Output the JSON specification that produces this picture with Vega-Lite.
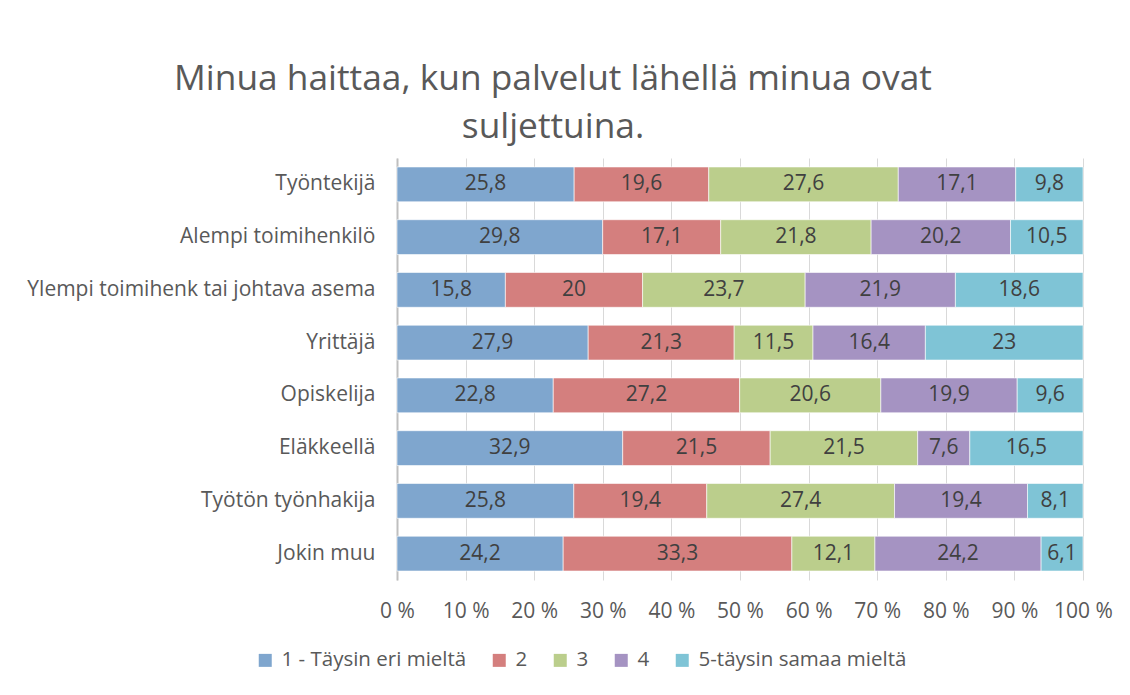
{
  "$schema": "https://vega.github.io/schema/vega-lite/v6.json",
  "width": 686,
  "height": 422,
  "autosize": {"type": "none"},
  "padding": {"left": 397, "top": 158, "right": 47, "bottom": 115},
  "background": "white",
  "title": {
    "text": ["Minua haittaa, kun palvelut lähellä minua ovat", "suljettuina."],
    "anchor": "middle",
    "frame": "group",
    "dx": -187,
    "offset": 13,
    "font": "Open Sans",
    "fontSize": 35.3,
    "fontWeight": "normal",
    "color": "#595959",
    "lineHeight": 48
  },
  "data": {
    "values": [
      {"group": "Työntekijä", "series": "1 - Täysin eri mieltä", "value": 25.8},
      {"group": "Työntekijä", "series": "2", "value": 19.6},
      {"group": "Työntekijä", "series": "3", "value": 27.6},
      {"group": "Työntekijä", "series": "4", "value": 17.1},
      {"group": "Työntekijä", "series": "5-täysin samaa mieltä", "value": 9.8},
      {"group": "Alempi toimihenkilö", "series": "1 - Täysin eri mieltä", "value": 29.8},
      {"group": "Alempi toimihenkilö", "series": "2", "value": 17.1},
      {"group": "Alempi toimihenkilö", "series": "3", "value": 21.8},
      {"group": "Alempi toimihenkilö", "series": "4", "value": 20.2},
      {"group": "Alempi toimihenkilö", "series": "5-täysin samaa mieltä", "value": 10.5},
      {"group": "Ylempi toimihenk tai johtava asema", "series": "1 - Täysin eri mieltä", "value": 15.8},
      {"group": "Ylempi toimihenk tai johtava asema", "series": "2", "value": 20},
      {"group": "Ylempi toimihenk tai johtava asema", "series": "3", "value": 23.7},
      {"group": "Ylempi toimihenk tai johtava asema", "series": "4", "value": 21.9},
      {"group": "Ylempi toimihenk tai johtava asema", "series": "5-täysin samaa mieltä", "value": 18.6},
      {"group": "Yrittäjä", "series": "1 - Täysin eri mieltä", "value": 27.9},
      {"group": "Yrittäjä", "series": "2", "value": 21.3},
      {"group": "Yrittäjä", "series": "3", "value": 11.5},
      {"group": "Yrittäjä", "series": "4", "value": 16.4},
      {"group": "Yrittäjä", "series": "5-täysin samaa mieltä", "value": 23},
      {"group": "Opiskelija", "series": "1 - Täysin eri mieltä", "value": 22.8},
      {"group": "Opiskelija", "series": "2", "value": 27.2},
      {"group": "Opiskelija", "series": "3", "value": 20.6},
      {"group": "Opiskelija", "series": "4", "value": 19.9},
      {"group": "Opiskelija", "series": "5-täysin samaa mieltä", "value": 9.6},
      {"group": "Eläkkeellä", "series": "1 - Täysin eri mieltä", "value": 32.9},
      {"group": "Eläkkeellä", "series": "2", "value": 21.5},
      {"group": "Eläkkeellä", "series": "3", "value": 21.5},
      {"group": "Eläkkeellä", "series": "4", "value": 7.6},
      {"group": "Eläkkeellä", "series": "5-täysin samaa mieltä", "value": 16.5},
      {"group": "Työtön työnhakija", "series": "1 - Täysin eri mieltä", "value": 25.8},
      {"group": "Työtön työnhakija", "series": "2", "value": 19.4},
      {"group": "Työtön työnhakija", "series": "3", "value": 27.4},
      {"group": "Työtön työnhakija", "series": "4", "value": 19.4},
      {"group": "Työtön työnhakija", "series": "5-täysin samaa mieltä", "value": 8.1},
      {"group": "Jokin muu", "series": "1 - Täysin eri mieltä", "value": 24.2},
      {"group": "Jokin muu", "series": "2", "value": 33.3},
      {"group": "Jokin muu", "series": "3", "value": 12.1},
      {"group": "Jokin muu", "series": "4", "value": 24.2},
      {"group": "Jokin muu", "series": "5-täysin samaa mieltä", "value": 6.1}
    ]
  },
  "transform": [
    {"stack": "value", "groupby": ["group"], "sort": [{"field": "series", "order": "ascending"}], "offset": "normalize", "as": ["x0", "x1"]},
    {"calculate": "(datum.x0 + datum.x1) / 2", "as": "xm"},
    {"calculate": "replace(toString(datum.value), '.', ',')", "as": "lbl"}
  ],
  "encoding": {
    "y": {
      "field": "group",
      "type": "nominal",
      "sort": ["Työntekijä", "Alempi toimihenkilö", "Ylempi toimihenk tai johtava asema", "Yrittäjä", "Opiskelija", "Eläkkeellä", "Työtön työnhakija", "Jokin muu"],
      "scale": {"paddingInner": 0.34, "paddingOuter": 0.17},
      "axis": {
        "title": null,
        "ticks": false,
        "grid": false,
        "domain": true,
        "domainColor": "#bfbfbf",
        "domainWidth": 2,
        "labelPadding": 22,
        "labelFont": "Open Sans",
        "labelFontSize": 21,
        "labelColor": "#595959",
        "labelLimit": 500
      }
    }
  },
  "layer": [
    {
      "mark": {"type": "bar", "stroke": "white", "strokeWidth": 0.6},
      "encoding": {
        "x": {
          "field": "x0",
          "type": "quantitative",
          "scale": {"domain": [0, 1], "nice": false},
          "axis": {
            "title": null,
            "values": [0, 0.1, 0.2, 0.3, 0.4, 0.5, 0.6, 0.7, 0.8, 0.9, 1],
            "labelExpr": "replace(format(datum.value, '.0%'), '%', ' %')",
            "ticks": false,
            "domain": false,
            "grid": true,
            "gridColor": "#d9d9d9",
            "gridWidth": 1,
            "labelFlush": false,
            "labelPadding": 20,
            "labelFont": "Open Sans",
            "labelFontSize": 21,
            "labelColor": "#595959"
          }
        },
        "x2": {"field": "x1"},
        "color": {
          "field": "series",
          "type": "nominal",
          "scale": {
            "domain": ["1 - Täysin eri mieltä", "2", "3", "4", "5-täysin samaa mieltä"],
            "range": ["#7fa6ce", "#d47f7e", "#bbce8c", "#a593c2", "#7fc4d6"]
          },
          "legend": {
            "title": null,
            "orient": "none",
            "direction": "horizontal",
            "legendX": -142,
            "legendY": 492,
            "symbolType": "square",
            "symbolSize": 169,
            "symbolStrokeWidth": 0,
            "labelOffset": 6,
            "columnPadding": 22,
            "labelFont": "Open Sans",
            "labelFontSize": 20.5,
            "labelColor": "#595959",
            "labelLimit": 400
          }
        }
      }
    },
    {
      "mark": {"type": "text", "font": "Open Sans", "fontSize": 21, "color": "#404040", "baseline": "middle", "align": "center"},
      "encoding": {
        "x": {"field": "xm", "type": "quantitative"},
        "text": {"field": "lbl", "type": "nominal"}
      }
    }
  ],
  "config": {
    "view": {"stroke": null}
  }
}
